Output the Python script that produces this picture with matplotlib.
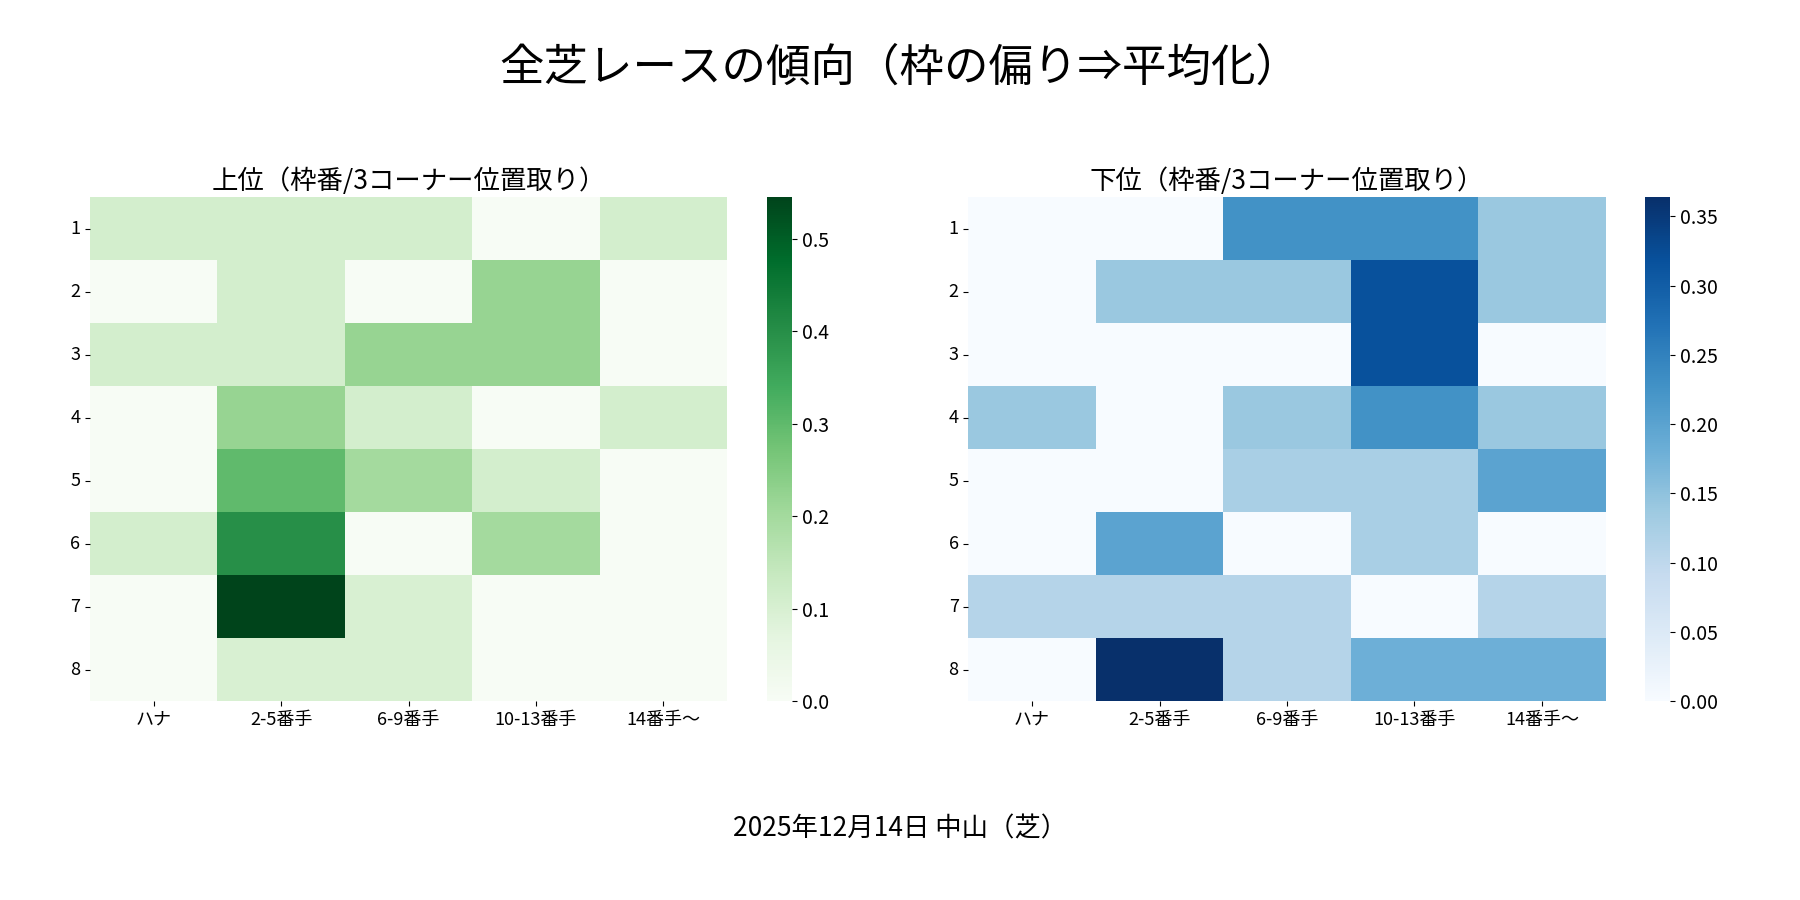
import numpy as np
import matplotlib.pyplot as plt
import seaborn as sns

plt.rcParams['font.family'] = ['Noto Sans CJK JP', 'DejaVu Sans']

rows = ['1', '2', '3', '4', '5', '6', '7', '8']
cols = ['ハナ', '2-5番手', '6-9番手', '10-13番手', '14番手～']

upper = np.array([
    [0.11, 0.11, 0.11, 0.00, 0.11],
    [0.00, 0.11, 0.00, 0.22, 0.00],
    [0.11, 0.11, 0.22, 0.22, 0.00],
    [0.00, 0.22, 0.11, 0.00, 0.11],
    [0.00, 0.30, 0.20, 0.11, 0.00],
    [0.11, 0.40, 0.00, 0.20, 0.00],
    [0.00, 0.545, 0.10, 0.00, 0.00],
    [0.00, 0.10, 0.10, 0.00, 0.00],
])
lower = np.array([
    [0.00, 0.00, 0.227, 0.227, 0.14],
    [0.00, 0.14, 0.14, 0.318, 0.14],
    [0.00, 0.00, 0.00, 0.318, 0.00],
    [0.14, 0.00, 0.14, 0.227, 0.14],
    [0.00, 0.00, 0.125, 0.125, 0.20],
    [0.00, 0.20, 0.00, 0.125, 0.00],
    [0.11, 0.11, 0.11, 0.00, 0.11],
    [0.00, 0.364, 0.11, 0.18, 0.18],
])

fig = plt.figure(figsize=(18, 9), dpi=100)
ax1 = fig.add_axes([0.05, 0.221, 0.354, 0.56])
cax1 = fig.add_axes([0.426, 0.221, 0.014, 0.56])
ax2 = fig.add_axes([0.538, 0.221, 0.354, 0.56])
cax2 = fig.add_axes([0.914, 0.221, 0.014, 0.56])

for ax, cax, data, cmap, title in [(ax1, cax1, upper, 'Greens', '上位（枠番/3コーナー位置取り）'),
                                   (ax2, cax2, lower, 'Blues', '下位（枠番/3コーナー位置取り）')]:
    sns.heatmap(data, ax=ax, cbar_ax=cax, cmap=cmap, xticklabels=cols, yticklabels=rows)
    ax.set_title(title, fontsize=19)
    ax.tick_params(labelsize=13)
    ax.set_yticklabels(rows, rotation=0)
    cax.tick_params(labelsize=14)

fig.suptitle('全芝レースの傾向（枠の偏り⇒平均化）', fontsize=32, y=0.95)
fig.text(0.5, 0.079, '2025年12月14日 中山（芝）', ha='center', va='center', fontsize=19)
plt.savefig('out.png')
